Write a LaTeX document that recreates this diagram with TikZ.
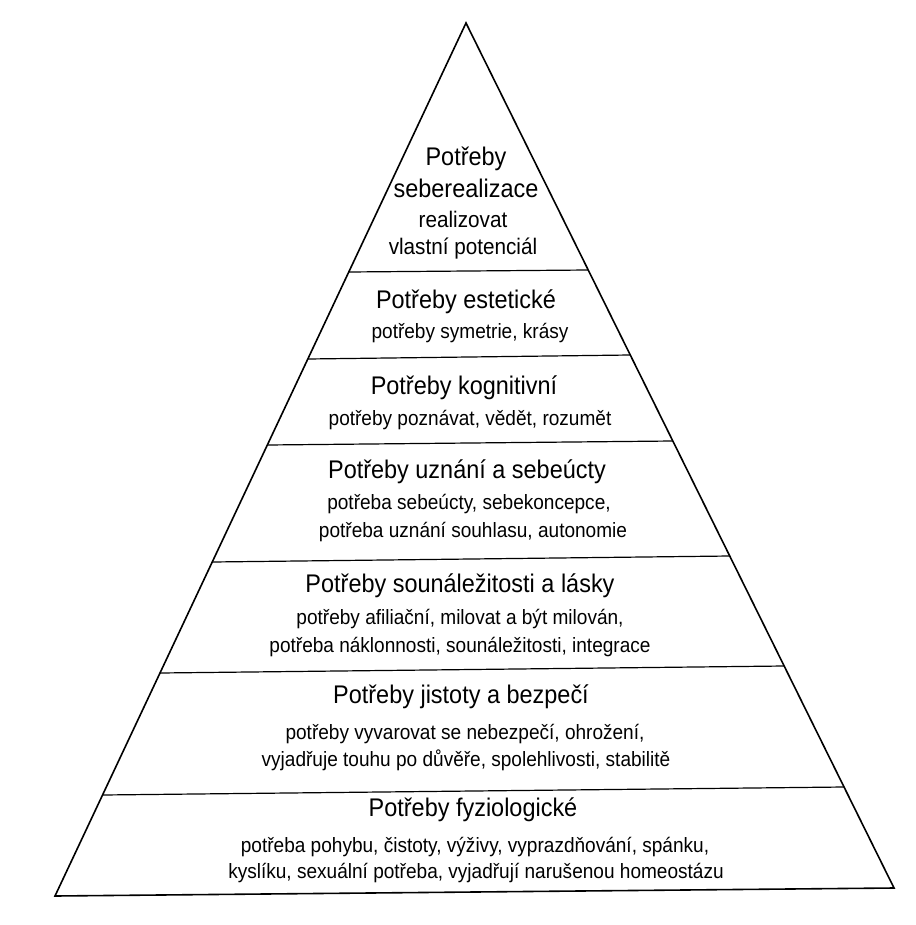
\documentclass[tikz,border=0pt]{standalone}
\usepackage{fontspec}
\setmainfont{Liberation Sans}[FakeStretch=0.92]
\begin{document}
\begin{tikzpicture}[x=1pt,y=-1pt,
  edge/.style={line width=1.6pt, line join=miter},
  lvl/.style={line width=1.2pt},
  ttl/.style={anchor=base, inner sep=0pt, font=\fontsize{25.5}{30}\selectfont},
  sub/.style={anchor=base, inner sep=0pt, font=\fontsize{20.7}{27}\selectfont},
  topsub/.style={anchor=base, inner sep=0pt, font=\fontsize{22.5}{27}\selectfont}
]
\useasboundingbox (0,0) rectangle (915,925);
\fill[white] (0,0) rectangle (915,925);
% triangle
\coordinate (apex) at (466,23);
\coordinate (bl) at (55,896);
\coordinate (br) at (894,888);
\draw[edge] (bl) -- (apex) -- (br) -- cycle;
% level lines
\coordinate (l1a) at (348.8,272); \coordinate (l1b) at (588.2,270);
\coordinate (l2a) at (307.8,359); \coordinate (l2b) at (630.3,355);
\coordinate (l3a) at (267.3,445); \coordinate (l3b) at (672.8,441);
\coordinate (l4a) at (212.2,562); \coordinate (l4b) at (729.7,556);
\coordinate (l5a) at (160.0,673); \coordinate (l5b) at (784.2,666);
\coordinate (l6a) at (102.5,795); \coordinate (l6b) at (844.0,787);
\draw[lvl] (l1a) -- (l1b);
\draw[lvl] (l2a) -- (l2b);
\draw[lvl] (l3a) -- (l3b);
\draw[lvl] (l4a) -- (l4b);
\draw[lvl] (l5a) -- (l5b);
\draw[lvl] (l6a) -- (l6b);
% level 1
\node[ttl] (t1a) at (466,166) {Potřeby};
\node[ttl] (t1b) at (466,198) {seberealizace};
\node[topsub] (s1a) at (463,228) {realizovat};
\node[topsub] (s1b) at (463,254) {vlastní potenciál};
% level 2
\node[ttl] (t2) at (466,308) {Potřeby estetické};
\node[sub] (s2) at (470,338) {potřeby symetrie, krásy};
% level 3
\node[ttl] (t3) at (464,394) {Potřeby kognitivní};
\node[sub] (s3) at (470,425) {potřeby poznávat, vědět, rozumět};
% level 4
\node[ttl] (t4) at (467,478) {Potřeby uznání a sebeúcty};
\node[sub] (s4a) at (469,509) {potřeba sebeúcty, sebekoncepce,};
\node[sub] (s4b) at (473,537) {potřeba uznání souhlasu, autonomie};
% level 5
\node[ttl] (t5) at (460,592) {Potřeby sounáležitosti a lásky};
\node[sub] (s5a) at (460,624) {potřeby afiliační, milovat a být milován,};
\node[sub] (s5b) at (460,652) {potřeba náklonnosti, sounáležitosti, integrace};
% level 6
\node[ttl] (t6) at (461,703) {Potřeby jistoty a bezpečí};
\node[sub] (s6a) at (465,739) {potřeby vyvarovat se nebezpečí, ohrožení,};
\node[sub] (s6b) at (466,766) {vyjadřuje touhu po důvěře, spolehlivosti, stabilitě};
% level 7
\node[ttl] (t7) at (473,816) {Potřeby fyziologické};
\node[sub] (s7a) at (475,852) {potřeba pohybu, čistoty, výživy, vyprazdňování, spánku,};
\node[sub] (s7b) at (476,878) {kyslíku, sexuální potřeba, vyjadřují narušenou homeostázu};
\end{tikzpicture}
\end{document}
